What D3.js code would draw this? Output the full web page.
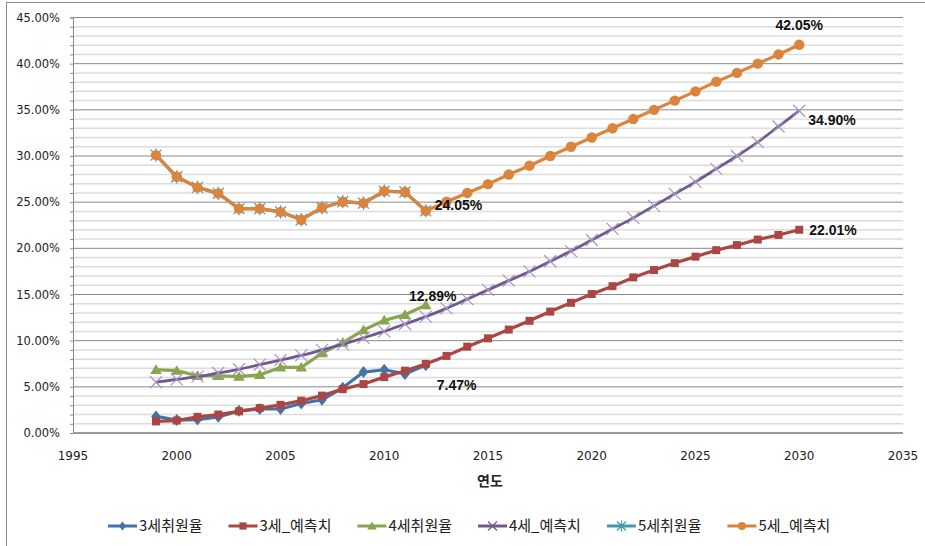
<!DOCTYPE html>
<html>
<head>
<meta charset="utf-8">
<script src="https://cdn.jsdelivr.net/npm/d3@7"></script>
<style>
  body { margin: 0; background: #fff; }
  svg { display: block; }
  .tick-label { font-family: "DejaVu Sans", sans-serif; font-size: 11.5px; fill: #222; }
  .data-label { font-family: "Liberation Sans", Arial, sans-serif; font-size: 14px; font-weight: bold; fill: #111; }
  .legend-label { font-family: "Noto Sans CJK KR", sans-serif; font-size: 15px; fill: #222; }
</style>
</head>
<body>
<div class="canvas"></div>
<script>
// years on the x axis
const years = d3.range(1999, 2031);
const obsYears = d3.range(1999, 2013);

// values in percent
const obs3 = [1.8, 1.4, 1.45, 1.75, 2.4, 2.6, 2.6, 3.2, 3.6, 4.9, 6.6, 6.85, 6.4, 7.35];
const pred3 = [1.25, 1.35, 1.75, 2.0, 2.35, 2.7, 3.05, 3.5, 4.05, 4.75, 5.3, 6.05, 6.75, 7.47,
  8.35, 9.35, 10.25, 11.2, 12.15, 13.15, 14.1, 15.05, 15.9, 16.85, 17.65, 18.4, 19.1, 19.8,
  20.35, 20.95, 21.45, 22.01];
const obs4 = [6.85, 6.75, 6.2, 6.2, 6.1, 6.3, 7.1, 7.1, 8.65, 9.8, 11.15, 12.2, 12.8, 13.85];
const pred4 = [5.5, 5.8, 6.1, 6.5, 6.9, 7.4, 7.9, 8.4, 9.0, 9.6, 10.3, 11.0, 11.8, 12.6,
  13.5, 14.5, 15.5, 16.5, 17.5, 18.6, 19.7, 20.9, 22.1, 23.3, 24.6, 25.9, 27.2, 28.6,
  30.0, 31.5, 33.2, 34.9];
const obs5 = [30.1, 27.75, 26.6, 25.95, 24.3, 24.3, 23.95, 23.1, 24.4, 25.05, 24.9, 26.2, 26.1, 24.05];
const pred5 = [30.1, 27.75, 26.6, 25.95, 24.3, 24.3, 23.95, 23.1, 24.4, 25.05, 24.9, 26.2, 26.1, 24.05,
  25.05, 26.0, 26.95, 28.0, 28.95, 30.0, 31.0, 32.0, 33.0, 34.0, 35.0, 36.0, 37.0, 38.05,
  39.0, 40.0, 41.0, 42.05];

const xTicks = [1995, 2000, 2005, 2010, 2015, 2020, 2025, 2030, 2035];
const yTicks = [0, 5, 10, 15, 20, 25, 30, 35, 40, 45];

const series = [
  { name: '3세취원율', x: obsYears, v: obs3, color: '#4572a7', marker: 'diamond' },
  { name: '3세_예측치', x: years, v: pred3, color: '#aa4643', marker: 'square' },
  { name: '4세취원율', x: obsYears, v: obs4, color: '#89a54e', marker: 'triangle' },
  { name: '4세_예측치', x: years, v: pred4, color: '#71588f', marker: 'cross', smooth: true },
  { name: '5세취원율', x: obsYears, v: obs5, color: '#4198af', marker: 'asterisk' },
  { name: '5세_예측치', x: years, v: pred5, color: '#db843d', marker: 'circle' }
];

// labels shown next to some points: [series index, year, text, dx, dy, anchor]
const labels = [
  [5, 2030, '42.05%', 0, -20, 'middle'],
  [3, 2030, '34.90%', 9, 9, 'start'],
  [1, 2030, '22.01%', 10, 0, 'start'],
  [5, 2012, '24.05%', 9, -6, 'start'],
  [2, 2012, '12.89%', 7, -9, 'middle'],
  [1, 2012, '7.47%', 11, 21, 'start']
];

const dims = { width: 925, height: 546 };
const plot = { left: 73, right: 903, top: 17.5, bottom: 433 };

const svg = d3.select('.canvas')
  .append('svg')
  .attr('width', dims.width)
  .attr('height', dims.height);

// chart border (only left and top show in the frame)
svg.append('rect')
  .attr('x', 6.5).attr('y', 2.5)
  .attr('width', 1000).attr('height', 1000)
  .attr('fill', 'none').attr('stroke', '#8c8c8c');

const x = d3.scaleLinear().domain([1995, 2035]).range([plot.left, plot.right]);
const y = d3.scaleLinear().domain([0, 45]).range([plot.bottom, plot.top]);

// minor grid every 1%
svg.append('g').selectAll('line')
  .data(d3.range(1, 45).filter(d => d % 5 !== 0))
  .enter().append('line')
  .attr('x1', plot.left).attr('x2', plot.right)
  .attr('y1', d => y(d)).attr('y2', d => y(d))
  .attr('stroke', '#dcdcdc').attr('stroke-width', 1.5);

// major grid every 5%
svg.append('g').selectAll('line')
  .data(yTicks.slice(1))
  .enter().append('line')
  .attr('x1', plot.left).attr('x2', plot.right)
  .attr('y1', d => y(d)).attr('y2', d => y(d))
  .attr('stroke', '#8a8a8a').attr('stroke-width', 1);

// y axis with small tick marks at each 1%
const yAxis = svg.append('g')
  .attr('transform', `translate(${plot.left},0)`)
  .call(d3.axisLeft(y).tickValues(d3.range(0, 46)).tickSize(3).tickFormat(''));
yAxis.select('.domain').attr('stroke', '#8a8a8a');
yAxis.selectAll('.tick line').attr('stroke', '#8a8a8a');

svg.append('g').selectAll('text')
  .data(yTicks)
  .enter().append('text')
  .attr('class', 'tick-label')
  .attr('x', 60)
  .attr('y', d => y(d))
  .attr('dy', '0.35em')
  .attr('text-anchor', 'end')
  .text(d => d3.format('.2f')(d) + '%');

// x axis
svg.append('line')
  .attr('x1', plot.left).attr('x2', plot.right)
  .attr('y1', plot.bottom).attr('y2', plot.bottom)
  .attr('stroke', '#9a9a9a').attr('stroke-width', 2);

svg.append('g').selectAll('text')
  .data(xTicks)
  .enter().append('text')
  .attr('class', 'tick-label')
  .style('font-size', '12px')
  .attr('x', d => x(d))
  .attr('y', 456)
  .attr('dy', '0.35em')
  .attr('text-anchor', 'middle')
  .text(d => d);

svg.append('text')
  .attr('x', 490).attr('y', 481)
  .attr('dy', '0.35em')
  .attr('text-anchor', 'middle')
  .style('font-family', '"Noto Sans CJK KR", sans-serif')
  .style('font-size', '14px')
  .style('font-weight', 'bold')
  .attr('fill', '#222')
  .text('연도');

// marker shapes
function markerPath(type, s) {
  switch (type) {
    case 'diamond': return `M0,${-s}L${s * 0.8},0L0,${s}L${-s * 0.8},0Z`;
    case 'square': return `M${-s * 0.8},${-s * 0.8}h${s * 1.6}v${s * 1.6}h${-s * 1.6}Z`;
    case 'triangle': return `M0,${-s}L${s * 1.05},${s * 0.75}L${-s * 1.05},${s * 0.75}Z`;
    case 'circle': return d3.symbol(d3.symbolCircle, Math.PI * s * s)();
    case 'cross': return `M${-s},${-s}L${s},${s}M${-s},${s}L${s},${-s}`;
    case 'asterisk': return `M${-s},${-s}L${s},${s}M${-s},${s}L${s},${-s}M0,${-s * 1.2}V${s * 1.2}`;
  }
}
const markerSize = { diamond: 6, square: 5, triangle: 5.5, circle: 5.2, cross: 6, asterisk: 5.5 };
const strokeOnly = t => t === 'cross' || t === 'asterisk';
const markerColor = s => s.marker === 'cross' ? '#a494c4' : s.color;

const line = d3.line()
  .x(d => x(d[0]))
  .y(d => y(d[1]));

series.forEach(s => {
  const pts = s.x.map((yr, i) => [yr, s.v[i]]);
  const g = svg.append('g');
  g.append('path')
    .datum(pts)
    .attr('d', line.curve(s.smooth ? d3.curveMonotoneX : d3.curveLinear))
    .attr('fill', 'none')
    .attr('stroke', s.color)
    .attr('stroke-width', s.smooth ? 2.8 : 3.2)
    .attr('stroke-linejoin', 'round');
  g.selectAll('path.m')
    .data(pts)
    .enter().append('path')
    .attr('class', 'm')
    .attr('transform', d => `translate(${x(d[0])},${y(d[1])})`)
    .attr('d', markerPath(s.marker, markerSize[s.marker]))
    .attr('fill', strokeOnly(s.marker) ? 'none' : s.color)
    .attr('stroke', strokeOnly(s.marker) ? markerColor(s) : 'none')
    .attr('stroke-width', 1.2);
});

// data labels
svg.append('g').selectAll('text')
  .data(labels)
  .enter().append('text')
  .attr('class', 'data-label')
  .attr('x', d => x(d[1]) + d[3])
  .attr('y', d => y(series[d[0]].v[series[d[0]].x.indexOf(d[1])]) + d[4])
  .attr('dy', '0.35em')
  .attr('text-anchor', d => d[5])
  .text(d => d[2]);

// legend
const legend = svg.append('g').attr('transform', 'translate(108,526)');
let lx = 0;
series.forEach(s => {
  const item = legend.append('g').attr('transform', `translate(${lx},0)`);
  item.append('line')
    .attr('x1', 0).attr('x2', 29)
    .attr('stroke', s.color).attr('stroke-width', 3);
  item.append('path')
    .attr('transform', 'translate(14.5,0)')
    .attr('d', markerPath(s.marker, s.marker === 'circle' ? 4 : 4.5))
    .attr('fill', strokeOnly(s.marker) ? 'none' : s.color)
    .attr('stroke', strokeOnly(s.marker) ? s.color : 'none')
    .attr('stroke-width', 1.2);
  const t = item.append('text')
    .attr('class', 'legend-label')
    .attr('x', 31)
    .attr('dy', '0.35em')
    .text(s.name);
  lx += 31 + t.node().getComputedTextLength() + 26;
});
</script>
</body>
</html>
